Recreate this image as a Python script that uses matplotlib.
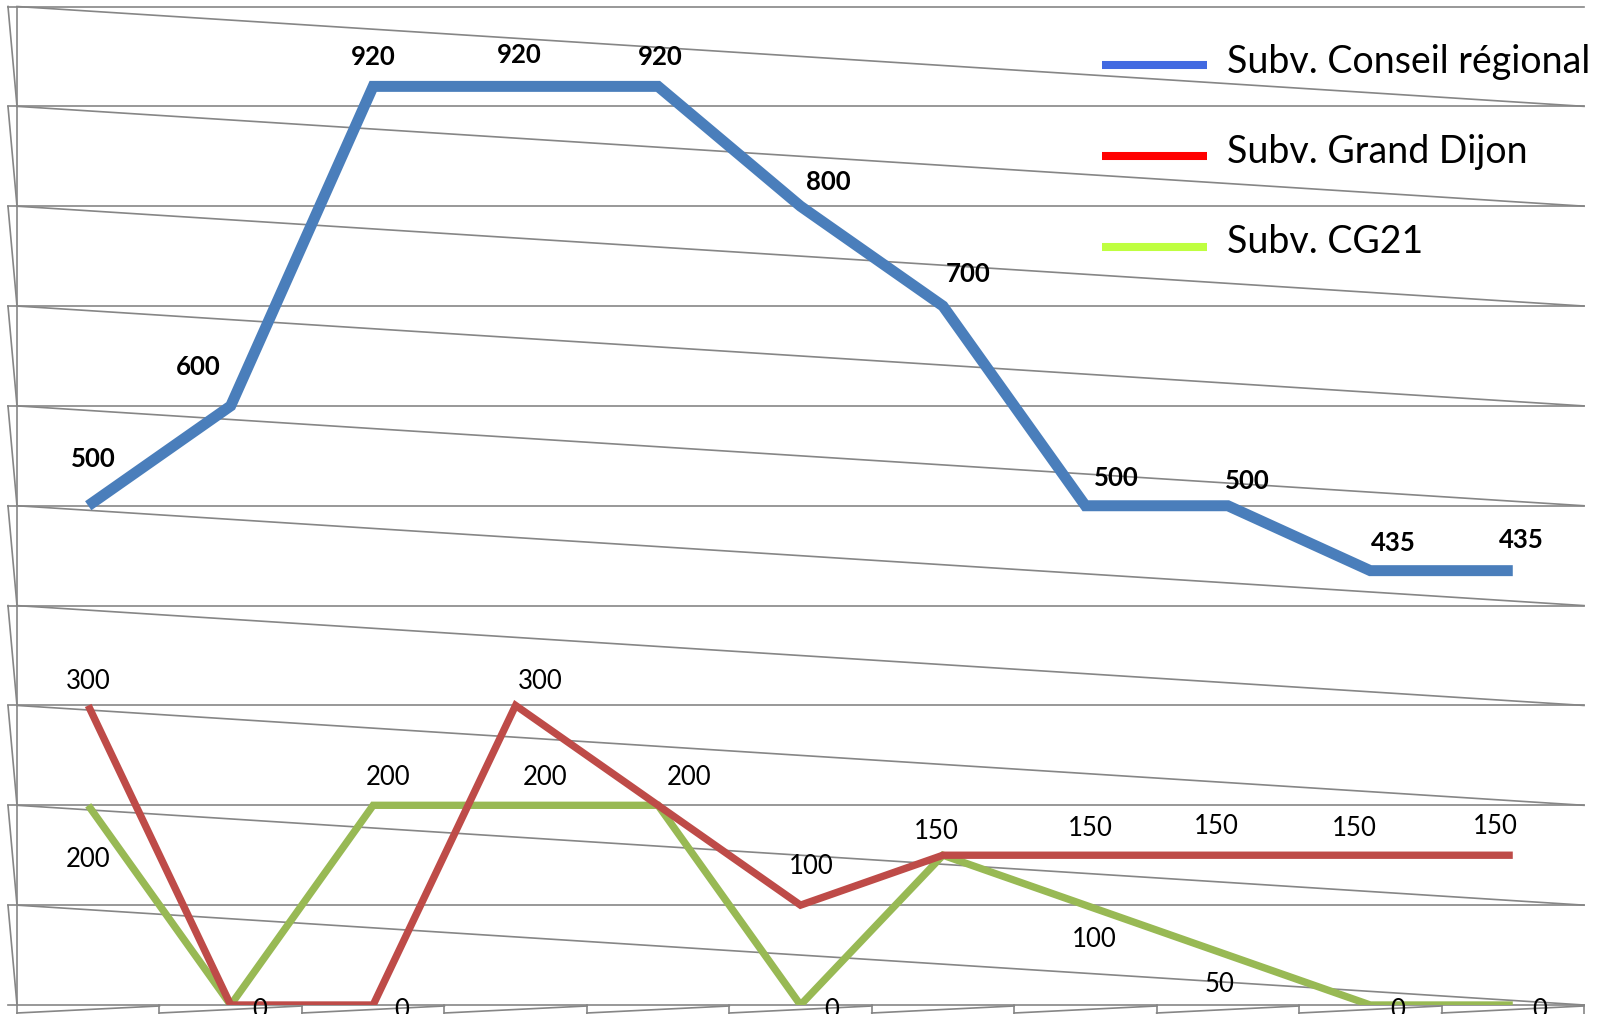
import numpy as np
import matplotlib
matplotlib.use("Agg")
import matplotlib.pyplot as plt
from matplotlib.lines import Line2D

W, H, DPI = 1619, 1014, 100

# data
series_names = ["Subv. Conseil régional", "Subv. Grand Dijon", "Subv. CG21"]
conseil_regional = [500, 600, 920, 920, 920, 800, 700, 500, 500, 435, 435]
grand_dijon = [300, 0, 0, 300, 200, 100, 150, 150, 150, 150, 150]
cg21 = [200, 0, 200, 200, 200, 0, 150, 100, 50, 0, 0]

# label offsets (pixels, y up) - excel put them in odd places
# None = label hidden behind the other series' identical label
blue_off = [(5, 47), (-32, 39), (0, 29), (4, 31), (2, 29), (28, 24),
            (25, 32), (31, 28), (19, 25), (23, 28), (9, 31)]
red_off = [(0, 24), (29, -5), (29, -5), (25, 24), None, (11, 39),
           (-7, 24), (5, 27), (-12, 29), (-16, 27), (-17, 29)]
green_off = [(0, -54), None, (15, 28), (29, 28), (31, 28), (31, -5),
             None, (9, -34), (-8, -29), (27, -5), (27, -5)]

line_colors = ["#4A7EBB", "#BE4B48", "#98B954"]
legend_colors = ["#4169E1", "#FF0000", "#BFFF40"]
grid_color = "#868686"

fig = plt.figure(figsize=(W / DPI, H / DPI), dpi=DPI)
ax = fig.add_axes([17 / W, (H - 1005) / H, 1567 / W, 998.5 / H])
n = len(conseil_regional)
x = np.arange(n)
ax.set_xlim(-0.5, n - 0.5)
ax.set_ylim(0, 1000)
ax.axis("off")

# the weird 3d-ish grid
px_x = (n) / 1567.0
px_y = 1000 / 998.5
left = -0.5 - 9 * px_x
levels = np.arange(0, 1001, 100)
gkw = dict(color=grid_color, lw=1.2, clip_on=False, zorder=1)
for v in levels:
    ax.plot([left, n - 0.5], [v, v], **gkw)
    if v > 0:
        ax.plot([-0.5, n - 0.5], [v, v - 100], **gkw)
        ax.plot([left, -0.5], [v, v - 100], **gkw)
ax.plot([-0.5, -0.5], [0, 1000], **gkw)
for i in range(n + 1):
    b = -0.5 + i
    ax.plot([b, b], [0, -9 * px_y], **gkw)
    if i < n:
        ax.plot([b, b + 1], [-8 * px_y, -1 * px_y], **gkw)

# series
ax.plot(x, conseil_regional, color=line_colors[0], lw=7.9,
        solid_joinstyle="miter", solid_capstyle="butt", zorder=3)
ax.plot(x, cg21, color=line_colors[2], lw=5.3,
        solid_joinstyle="miter", solid_capstyle="butt", zorder=3)
ax.plot(x, grand_dijon, color=line_colors[1], lw=5.3,
        solid_joinstyle="miter", solid_capstyle="butt", zorder=4)

font = "Lato"
for vals, offs, bold in [(conseil_regional, blue_off, True),
                         (grand_dijon, red_off, False),
                         (cg21, green_off, False)]:
    for i, v in enumerate(vals):
        if offs[i] is None:
            continue
        ax.annotate(str(v), (x[i], v), xytext=offs[i], textcoords="offset pixels",
                    ha="center", va="center", fontsize=18.5, family=font,
                    fontweight="bold" if bold else "normal", color="black",
                    annotation_clip=False, zorder=5)

# legend, drawn by hand to sit where excel put it
leg_y = [65, 156, 247]
base_y = [72.5, 163, 253]
for name, c, ly, by in zip(series_names, legend_colors, leg_y, base_y):
    fig.add_artist(Line2D([1102 / W, 1207 / W], [1 - ly / H, 1 - ly / H],
                          transform=fig.transFigure, color=c, lw=5.8,
                          solid_capstyle="butt"))
    fig.text(1227 / W, 1 - by / H, name, va="baseline", ha="left",
             fontsize=27, family=font, color="black")

fig.savefig("out.png", dpi=DPI)
